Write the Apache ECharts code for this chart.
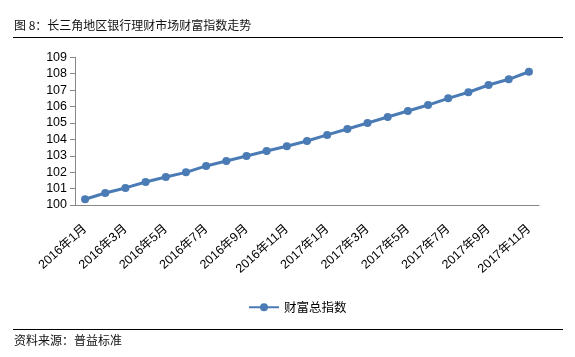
<!DOCTYPE html>
<html><head><meta charset="utf-8">
<script src="https://cdn.jsdelivr.net/npm/echarts@6/dist/echarts.min.js"></script>
<style>html,body{margin:0;padding:0;background:#fff}#c{width:575px;height:357px}</style>
</head><body><div id="c"></div>
<script>
const categories = ['2016年1月','2016年2月','2016年3月','2016年4月','2016年5月','2016年6月','2016年7月','2016年8月','2016年9月','2016年10月','2016年11月','2016年12月','2017年1月','2017年2月','2017年3月','2017年4月','2017年5月','2017年6月','2017年7月','2017年8月','2017年9月','2017年10月','2017年11月'];
const wealthIndex = [100.35,100.73,101.04,101.40,101.71,101.99,102.38,102.68,102.99,103.29,103.58,103.90,104.27,104.63,105.00,105.36,105.73,106.09,106.50,106.87,107.31,107.66,108.12];
const seriesName = '财富总指数';
const titleText = '图 8：长三角地区银行理财市场财富指数走势';
const sourceText = '资料来源：普益标准';

const chart = echarts.init(document.getElementById('c'));
const font = '"Noto Sans CJK SC", "Liberation Sans", sans-serif';
chart.setOption({
  animation: false,
  textStyle: {fontFamily: font},
  graphic: [
    {type:'text', left:14, top:19, style:{text:titleText, font:'12px ' + font, fill:'#111'}},
    {type:'line', shape:{x1:13,y1:37.5,x2:563,y2:37.5}, style:{stroke:'#000', lineWidth:1}},
    {type:'line', shape:{x1:13,y1:329.5,x2:563,y2:329.5}, style:{stroke:'#000', lineWidth:1}},
    {type:'text', left:14, top:334, style:{text:sourceText, font:'12px ' + font, fill:'#111'}}
  ],
  legend: {
    data:[seriesName], left:243, top:296, itemWidth:30, itemHeight:10, itemGap:4,
    textStyle:{fontSize:12.5, color:'#000', fontFamily:font}
  },
  grid: {left:75, right:36, top:57.3, bottom:152},
  xAxis: {
    type:'category', data:categories, boundaryGap:true,
    axisLine:{lineStyle:{color:'#888'}},
    axisTick:{interval:1, length:5, lineStyle:{color:'#888'}},
    axisLabel:{interval:1, rotate:42, fontSize:12.5, color:'#000', margin:22, fontFamily:'"Liberation Sans", "Noto Sans CJK SC", sans-serif'}
  },
  yAxis: {
    type:'value', min:100, max:109, interval:1,
    axisLine:{show:true, lineStyle:{color:'#888'}},
    axisTick:{show:true, length:5, inside:false, lineStyle:{color:'#888'}},
    splitLine:{show:false},
    axisLabel:{fontSize:12.5, color:'#000', margin:8, fontFamily:'"Liberation Sans", sans-serif'}
  },
  series: [{
    name:seriesName, type:'line', data:wealthIndex,
    symbol:'circle', symbolSize:8, showSymbol:true,
    lineStyle:{color:'#4a7bb5', width:3},
    itemStyle:{color:'#4a7bb5'}
  }]
});
</script></body></html>
